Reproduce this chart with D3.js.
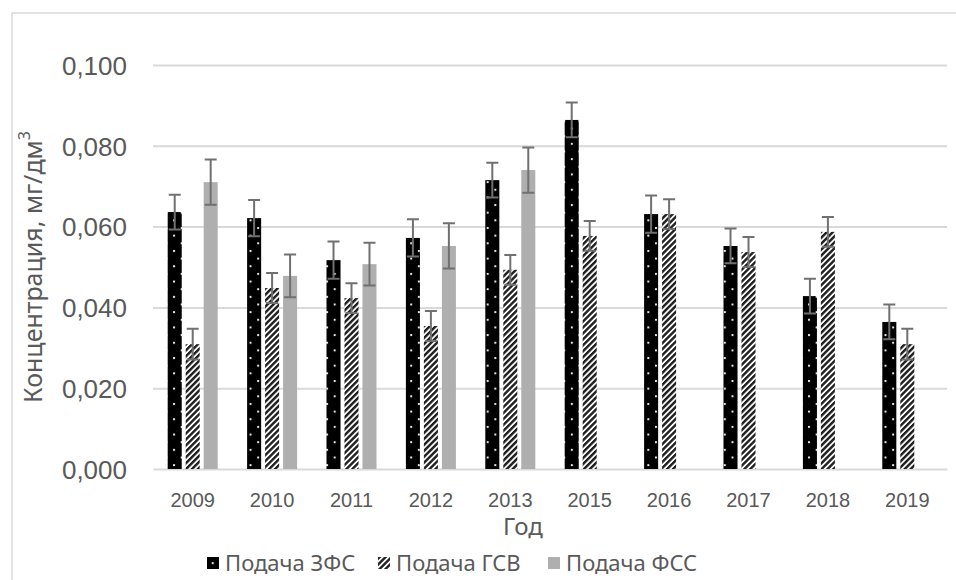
<!DOCTYPE html>
<html>
<head>
<meta charset="utf-8">
<script src="https://cdn.jsdelivr.net/npm/d3@7"></script>
<style>
  html, body { margin: 0; padding: 0; background: #fff; }
  svg { display: block; font-family: "Noto Sans", "Open Sans", sans-serif; }
</style>
</head>
<body>
<svg id="chart" width="956" height="580"></svg>
<script>
// Годы наблюдений
const years = ["2009", "2010", "2011", "2012", "2013", "2015", "2016", "2017", "2018", "2019"];

// Серии (мг/дм³)
const seriesNames = ["Подача ЗФС", "Подача ГСВ", "Подача ФСС"];
const zfs = [0.0636, 0.0621, 0.0517, 0.0572, 0.0715, 0.0864, 0.0631, 0.0552, 0.0428, 0.0364];
const gsv = [0.0309, 0.0448, 0.0423, 0.0354, 0.0493, 0.0577, 0.0631, 0.0537, 0.0587, 0.0309];
const fss = [0.0710, 0.0478, 0.0507, 0.0552, 0.0740, null, null, null, null, null];

// Погрешности (±)
const zfsErr = [0.0043, 0.0045, 0.0046, 0.0046, 0.0043, 0.0043, 0.0046, 0.0043, 0.0043, 0.0043];
const gsvErr = [0.0038, 0.0037, 0.0037, 0.0037, 0.0037, 0.0037, 0.0037, 0.0037, 0.0037, 0.0038];
const fssErr = [0.0056, 0.0053, 0.0053, 0.0056, 0.0056, null, null, null, null, null];

// Деления оси Y
const yTicks = [0, 0.02, 0.04, 0.06, 0.08, 0.1];

const svg = d3.select("#chart");
const W = 956, H = 580;
const plot = { left: 153, right: 947, top: 65, bottom: 469 };

const ru = d3.formatLocale({ decimal: ",", thousands: " ", grouping: [3], currency: ["", " ₽"] });
const fmt = ru.format(".3f");

// Заливки: точки, штриховка, серый
const defs = svg.append("defs");
const dotStep = 15.3;
const dots = defs.append("pattern")
  .attr("id", "pat-dots")
  .attr("patternUnits", "userSpaceOnUse")
  .attr("x", 12.4).attr("y", 12.8)
  .attr("width", dotStep).attr("height", dotStep);
dots.append("rect").attr("width", dotStep).attr("height", dotStep).attr("fill", "#000");
dots.append("rect").attr("x", 0).attr("y", 0).attr("width", 2).attr("height", 2).attr("fill", "#e6e6e6");
dots.append("rect").attr("x", dotStep / 2).attr("y", dotStep / 2).attr("width", 2).attr("height", 2).attr("fill", "#e6e6e6");

const stripes = defs.append("pattern")
  .attr("id", "pat-stripes")
  .attr("patternUnits", "userSpaceOnUse")
  .attr("width", 4.2).attr("height", 4.2)
  .attr("patternTransform", "rotate(45)");
stripes.append("rect").attr("width", 4.2).attr("height", 4.2).attr("fill", "#fff");
stripes.append("rect").attr("width", 2.4).attr("height", 4.2).attr("fill", "#1e1e1e");

const fills = ["url(#pat-dots)", "url(#pat-stripes)", "#afafaf"];

// Рамка области диаграммы
svg.append("path")
  .attr("d", `M${W + 2},13 H12 V${H + 2}`)
  .attr("fill", "none")
  .attr("stroke", "#d9d9d9")
  .attr("stroke-width", 1.5);

// Шкалы
const x0 = d3.scaleBand().domain(years).range([plot.left, plot.right]).padding(0);
const groupW = 50;
const gpad = (x0.bandwidth() - groupW) / 2;
const x1 = d3.scaleBand().domain(seriesNames).range([gpad, x0.bandwidth() - gpad]).paddingInner(0.22).paddingOuter(0);
const y = d3.scaleLinear().domain([0, 0.1]).range([plot.bottom, plot.top]);

// Ось Y с линиями сетки
const yAxis = svg.append("g")
  .attr("transform", `translate(${plot.left},0)`)
  .call(d3.axisLeft(y).tickValues(yTicks).tickFormat(fmt)
    .tickSize(-(plot.right - plot.left)).tickPadding(26));
yAxis.select(".domain").remove();
yAxis.selectAll(".tick line").attr("stroke", "#d9d9d9").attr("stroke-width", 2);
yAxis.selectAll(".tick text")
  .attr("fill", "#595959")
  .attr("font-size", 26)
  .attr("dy", "0.36em");
yAxis.selectAll(".tick").filter(d => d === 0).select("line").remove();

// Ось X
const xAxis = svg.append("g")
  .attr("transform", `translate(0,${plot.bottom})`)
  .call(d3.axisBottom(x0).tickSize(0).tickSizeOuter(0).tickPadding(24));
xAxis.select(".domain").attr("stroke", "#d9d9d9").attr("stroke-width", 2);
xAxis.selectAll(".tick text")
  .attr("fill", "#595959")
  .attr("font-size", 20);

// Столбцы
const series = [
  { name: seriesNames[0], values: zfs, errs: zfsErr, fill: fills[0] },
  { name: seriesNames[1], values: gsv, errs: gsvErr, fill: fills[1] },
  { name: seriesNames[2], values: fss, errs: fssErr, fill: fills[2] }
];

const points = [];
series.forEach(s => {
  years.forEach((yr, i) => {
    if (s.values[i] != null) {
      points.push({ year: yr, series: s.name, value: s.values[i], err: s.errs[i], fill: s.fill });
    }
  });
});

const bars = svg.append("g");
bars.selectAll("rect")
  .data(points)
  .join("rect")
  .attr("x", d => x0(d.year) + x1(d.series))
  .attr("y", d => y(d.value))
  .attr("width", x1.bandwidth())
  .attr("height", d => y(0) - y(d.value))
  .attr("fill", d => d.fill);

// Планки погрешностей
const capW = 12;
const eb = svg.append("g")
  .attr("stroke", "#707070")
  .attr("stroke-width", 2)
  .attr("fill", "none");
eb.selectAll("path")
  .data(points)
  .join("path")
  .attr("d", d => {
    const cx = x0(d.year) + x1(d.series) + x1.bandwidth() / 2;
    const yt = y(d.value + d.err), yb = y(d.value - d.err);
    return `M${cx},${yt} V${yb} M${cx - capW / 2},${yt} H${cx + capW / 2} M${cx - capW / 2},${yb} H${cx + capW / 2}`;
  });

// Подписи осей
const yTitle = svg.append("text")
  .attr("transform", `translate(42,${(plot.top + plot.bottom) / 2}) rotate(-90)`)
  .attr("text-anchor", "middle")
  .attr("fill", "#595959")
  .attr("font-size", 25);
yTitle.append("tspan").text("Концентрация, мг/дм");
yTitle.append("tspan").attr("font-size", 16).attr("dy", "-0.75em").text("3");

svg.append("text")
  .attr("x", 523)
  .attr("y", 535)
  .attr("text-anchor", "middle")
  .attr("fill", "#595959")
  .attr("font-size", 24)
  .text("Год");

// Легенда
const legendX = [207, 378, 548];
const legend = svg.append("g");
const items = legend.selectAll("g")
  .data(series)
  .join("g")
  .attr("transform", (d, i) => `translate(${legendX[i]},557)`);
items.append("rect")
  .attr("width", 12).attr("height", 12)
  .attr("fill", d => d.fill);
items.append("text")
  .attr("x", 18)
  .attr("y", 6)
  .attr("dy", "0.36em")
  .attr("fill", "#595959")
  .attr("font-size", 22)
  .text(d => d.name);
</script>
</body>
</html>
